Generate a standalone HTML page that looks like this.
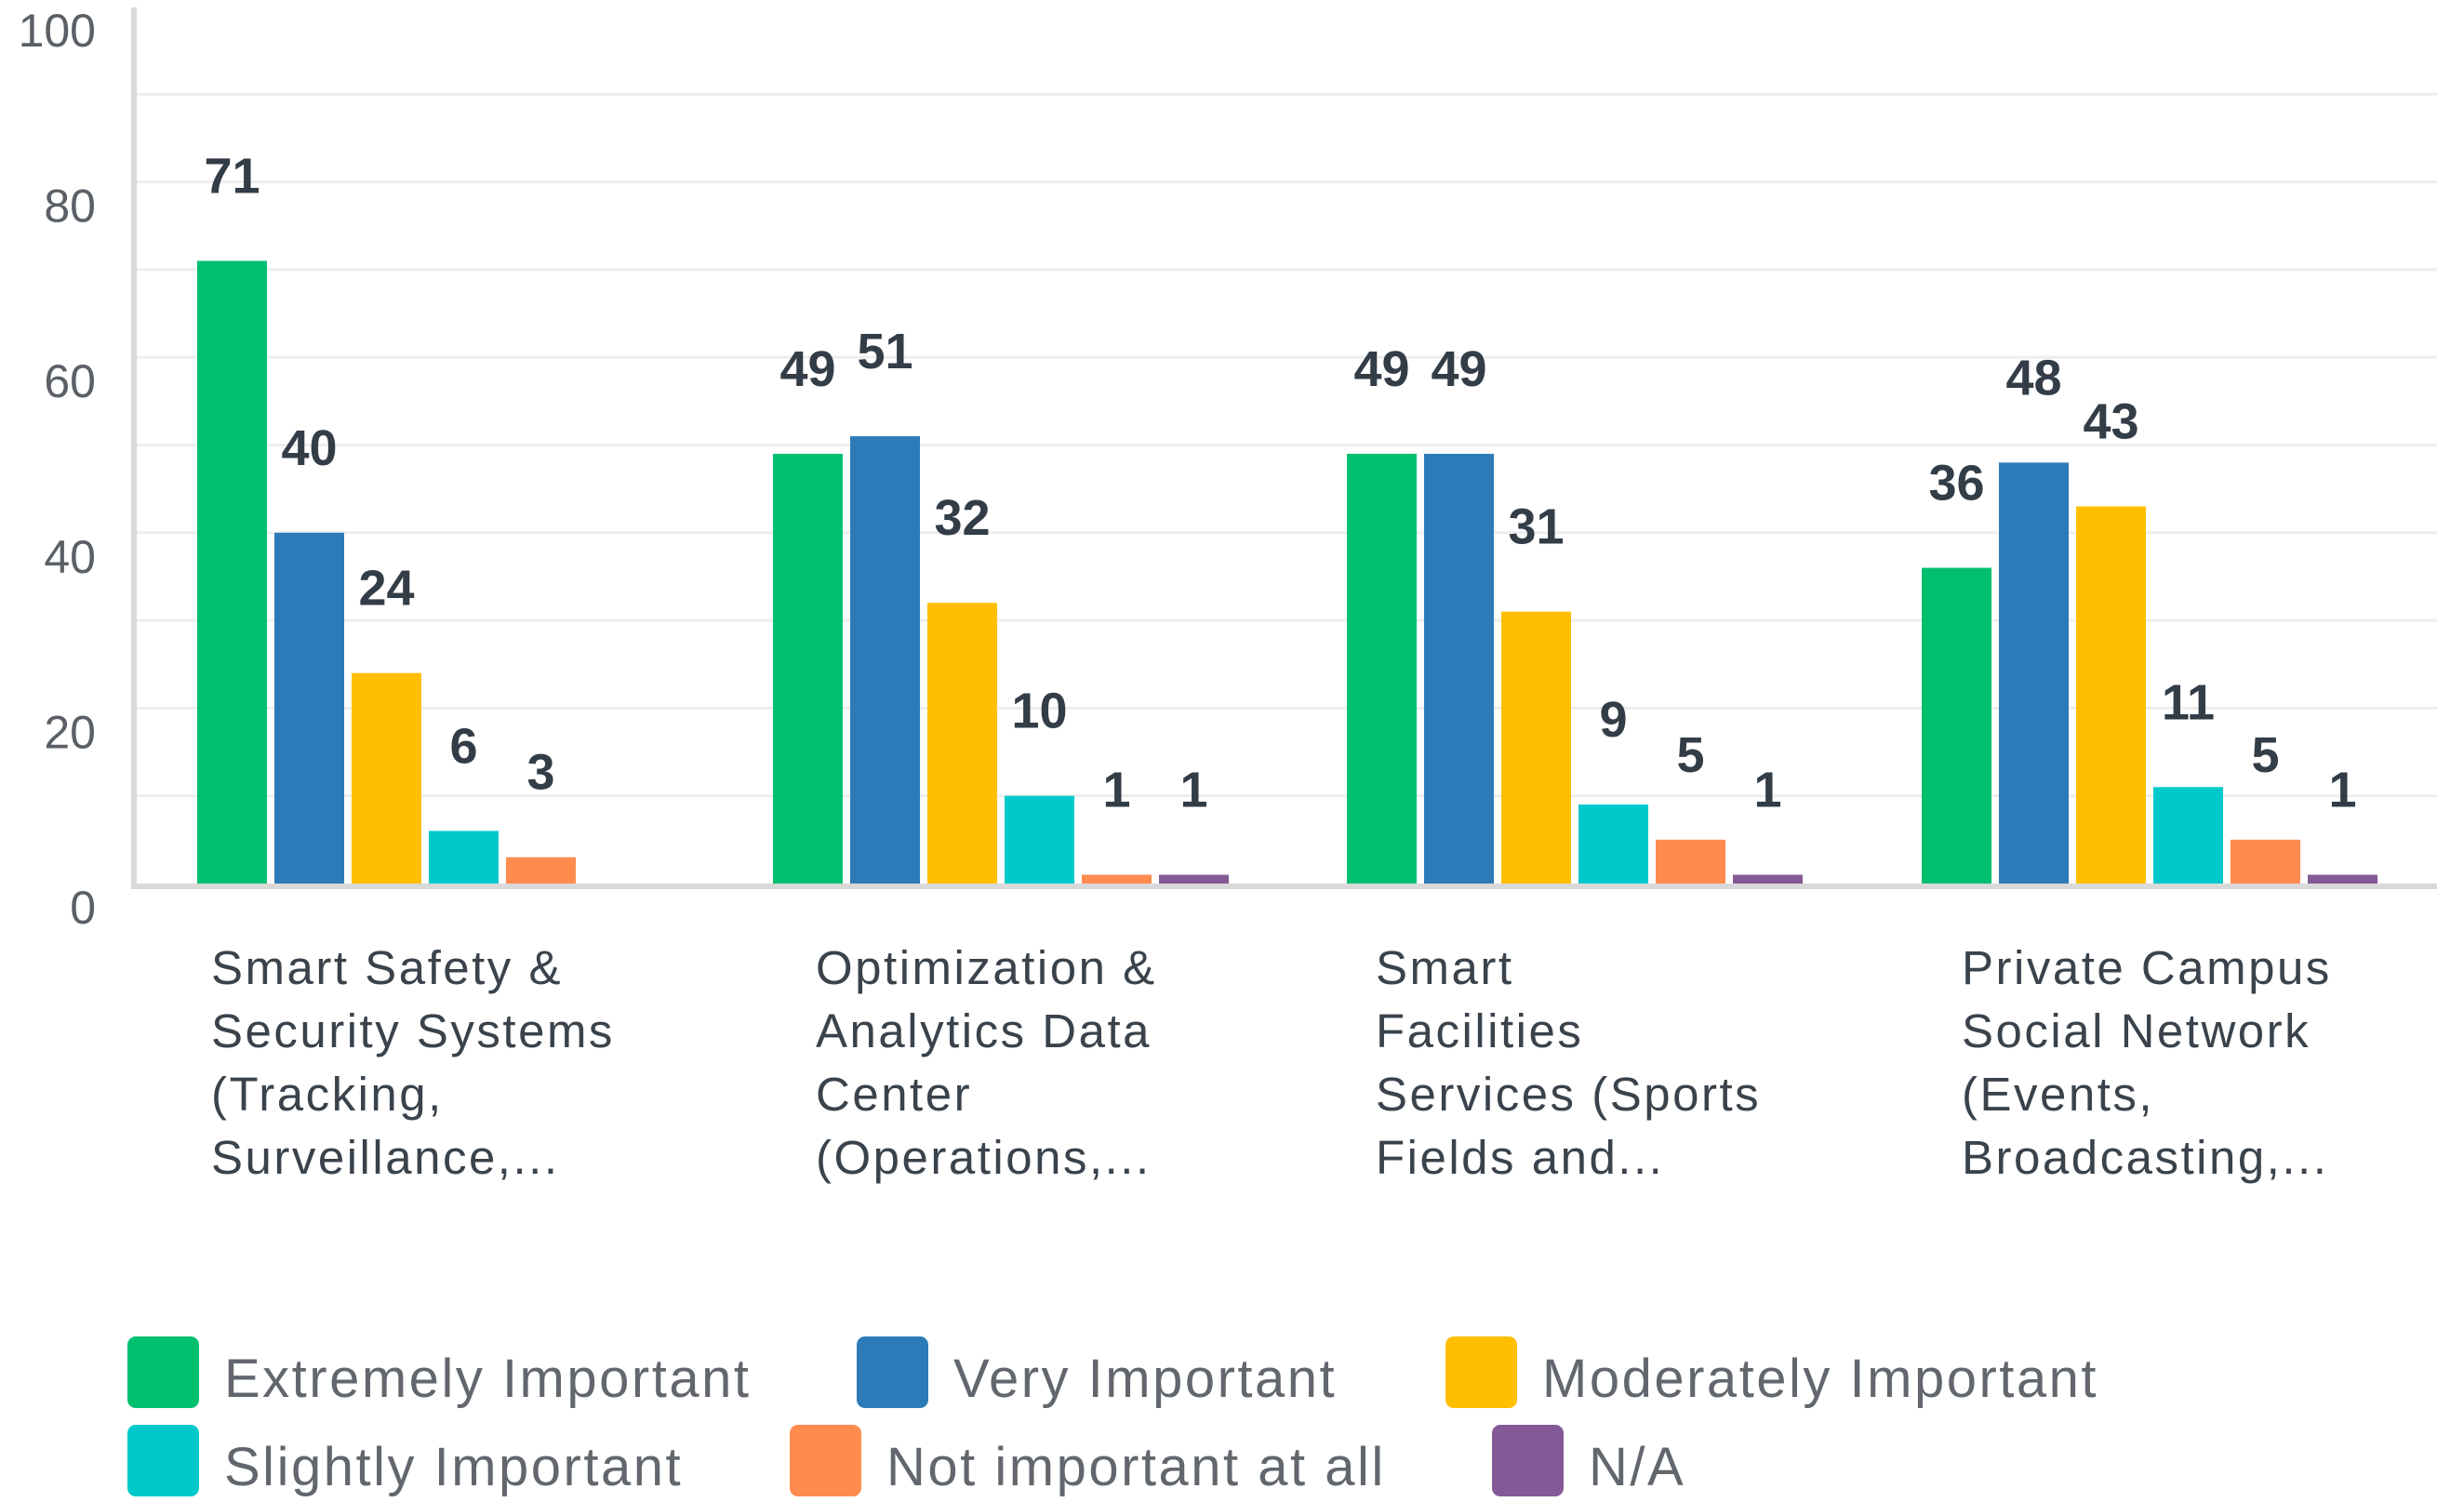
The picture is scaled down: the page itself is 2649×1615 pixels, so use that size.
<!DOCTYPE html>
<html><head><meta charset="utf-8"><style>
html,body{margin:0;padding:0;background:#fff;width:2649px;height:1615px;overflow:hidden}
svg{display:block}
.tick{font-family:"Liberation Sans",sans-serif;font-size:50px;fill:#5b6066}
.val{font-family:"Liberation Sans",sans-serif;font-size:54px;font-weight:bold;fill:#333d47}
.cat{font-family:"Liberation Sans",sans-serif;font-size:51px;fill:#3a434c;letter-spacing:2.5px}
.leg{font-family:"Liberation Sans",sans-serif;font-size:58px;fill:#62676d;letter-spacing:2.5px}
</style></head><body>
<svg id="chart" width="2649" height="1615"></svg>
<script>
const categories=[["Smart Safety &","Security Systems","(Tracking,","Surveillance,..."],["Optimization &","Analytics Data","Center","(Operations,..."],["Smart","Facilities","Services (Sports","Fields and..."],["Private Campus","Social Network","(Events,","Broadcasting,..."]];
const seriesNames=["Extremely Important","Very Important","Moderately Important","Slightly Important","Not important at all","N/A"];
const extremely=[71,49,49,36];
const very=[40,51,49,48];
const moderately=[24,32,31,43];
const slightly=[6,10,9,11];
const notImportant=[3,1,5,5];
const na=[0,1,1,1];
const yTicks=[0,20,40,60,80,100];
const series=[extremely,very,moderately,slightly,notImportant,na];
const colors=["#00bf6f","#2c7bb8","#ffbf00","#00c9cc","#ff8b4f","#845a96"];
const NS="http://www.w3.org/2000/svg";
const svg=document.getElementById('chart');
function mk(t,a,p){const e=document.createElementNS(NS,t);for(const k in a)e.setAttribute(k,a[k]);(p||svg).appendChild(e);return e;}
const y0=950,pxPer=9.43;
function y(v){return y0-v*pxPer;}
const groupStart=[212,831,1448,2066],step=83,bw=75;
function x(g,s){return groupStart[g]+s*step;}
// gridlines
for(let v=10;v<=90;v+=10){const l=mk('rect',{x:147,y:y(v)-1.5,width:2473,height:3,fill:'#ededed'});

}
yTicks.forEach(v=>{const t=mk('text',{x:103,y:y(v)+43,'text-anchor':'end',class:'tick'});t.textContent=v;

});
const ax=mk('rect',{x:141,y:8,width:6,height:948,fill:'#d9d9d9'});


series.forEach((arr,s)=>{arr.forEach((v,g)=>{
 if(v<=0)return;
 const r=mk('rect',{x:x(g,s),y:y(v),width:bw,height:y0-y(v),fill:colors[s]});
 
 
 const t=mk('text',{x:x(g,s)+bw/2,y:y(v)-73,'text-anchor':'middle',class:'val'});t.textContent=v;
 
 
});});
const bx=mk('rect',{x:143,y:950,width:2477,height:6,fill:'#d9d9d9'});


const catX=[227,877,1479,2109];
categories.forEach((lines,g)=>{const t=mk('text',{class:'cat'});


lines.forEach((ln,i)=>{const s=mk('tspan',{x:catX[g],y:1058+i*68},t);s.textContent=ln;});});
const legPos=[[137,1437],[921,1437],[1554,1437],[137,1532],[849,1532],[1604,1532]];
seriesNames.forEach((n,i)=>{const g=mk('g',{});


mk('rect',{x:legPos[i][0],y:legPos[i][1],width:77,height:77,rx:9,fill:colors[i]},g);
const t=mk('text',{x:legPos[i][0]+104,y:legPos[i][1]+65,class:'leg'},g);t.textContent=n;});
</script>
</body></html>
